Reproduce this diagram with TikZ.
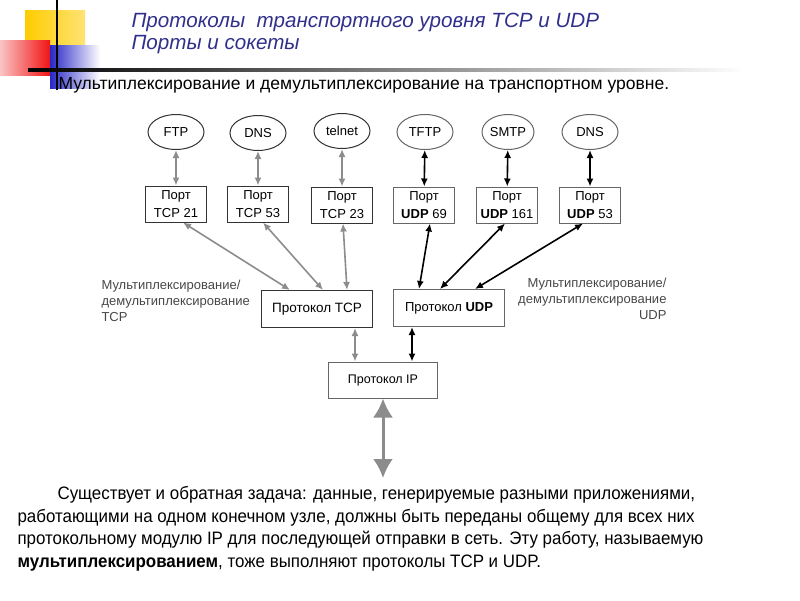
\documentclass[tikz,border=0pt]{standalone}
\usepackage{fontspec}
\setmainfont{Liberation Sans}
\newfontfamily\narrowfont[FakeStretch=0.94]{Liberation Sans}
\usetikzlibrary{arrows.meta}
\usetikzlibrary{shapes}
\definecolor[named]{TitleBlue}{RGB}{48,48,140}
\definecolor[named]{DecoYellow}{RGB}{255,204,0}
\definecolor[named]{DecoRed}{RGB}{240,20,20}
\definecolor[named]{DecoBlue}{RGB}{40,40,200}
\colorlet{arrgray}{black!45}
\colorlet{lblgray}{black!72}
\newcommand{\fsz}[2]{\fontsize{#1}{#2}\selectfont}
\tikzset{
  app/.style={draw=black!80,line width=1pt,ellipse,inner sep=0pt,
    minimum width=56pt,minimum height=35pt,font=\fsz{13}{15}},
  port/.style={draw=black!80,line width=1pt,align=center,inner sep=0pt,
    minimum width=61pt,minimum height=36pt,font=\fsz{13}{18}},
  proto/.style={draw=black!80,line width=1pt,inner sep=0pt,
    minimum width=111pt,minimum height=37pt,font=\fsz{13.5}{15}},
  garr/.style={arrgray,line width=1.6pt,
    {Latex[length=8pt,width=7pt]}-{Latex[length=8pt,width=7pt]}},
  barr/.style={black,line width=1.6pt,
    {Latex[length=8pt,width=7pt]}-{Latex[length=8pt,width=7pt]}}
}

\begin{document}
\begin{tikzpicture}[x=1pt,y=-1pt]
    \useasboundingbox (0,0) rectangle (800,600);
    % Decoration
    \shade[left color=DecoYellow,right color=DecoYellow!55]
      (25,10) rectangle (85,65);
    \shade[left color=DecoRed!25,right color=DecoRed]
      (0,40) rectangle (50,75);
    \shade[left color=DecoBlue,right color=white]
      (50,45) rectangle (100,88);
    \draw[line width=2pt] (57,0) -- (57,90);
    \shade[left color=black,middle color=black!70,right color=white]
      (28,68.5) rectangle (745,71.5);
    % Titles
    \node[anchor=west,TitleBlue,font=\itshape\fsz{20.6}{24}] (title) at (128,22)
      {Протоколы \ транспортного уровня TCP и UDP};
    \node[anchor=west,TitleBlue,font=\itshape\fsz{20.6}{24}] (subtitle) at (128,45)
      {Порты и сокеты};
    \node[anchor=west,font=\fsz{17.5}{20}] (head) at (55,85)
      {Мультиплексирование и демультиплексирование на транспортном уровне.};
    % Applications
    \node[app] (ftp)    at (176,132) {FTP};
    \node[app] (dns)    at (258,133) {DNS};
    \node[app] (telnet) at (342,131) {telnet};
    \node[app,draw=black!60] (tftp) at (425,132) {TFTP};
    \node[app,draw=black!60,minimum width=52pt] (smtp) at (508,132) {SMTP};
    \node[app,draw=black!60] (dnsu) at (590,132) {DNS};
    % Ports
    \node[port] (pftp)    at (176,204) {Порт\\TCP 21};
    \node[port] (pdns)    at (258,204) {Порт\\TCP 53};
    \node[port] (ptelnet) at (342,205) {Порт\\TCP 23};
    \node[port,draw=black!60] (ptftp) at (424,205) {Порт\\\textbf{UDP} 69};
    \node[port,draw=black!60] (psmtp) at (507,205) {Порт\\\textbf{UDP} 161};
    \node[port,draw=black!60] (pdnsu) at (590,205) {Порт\\\textbf{UDP} 53};
    % Protocols
    \node[proto] (tcp) at (317,309) {Протокол TCP};
    \node[proto,draw=black!60,font=\fsz{13}{15}] (udp) at (449,308)
      {Протокол \textbf{UDP}};
    \node[proto,draw=black!60,minimum width=109pt,minimum height=36pt,
      font=\fsz{12.5}{15}] (ip) at (383,380) {Протокол IP};
    \coordinate (net) at (383,478);
    % Labels
    \node[anchor=west,align=left,lblgray,font=\fsz{13}{16}] (ltcp) at (98,301)
      {Мультиплексирование/\\демультиплексирование\\TCP};
    \node[anchor=east,align=right,lblgray,font=\fsz{13}{16}] (ludp) at (670,299)
      {Мультиплексирование/\\демультиплексирование\\UDP};
    % Arrows
    \draw[garr] (ftp) -- (pftp);
    \draw[garr] (dns) -- (pdns);
    \draw[garr] (telnet) -- (ptelnet);
    \draw[barr] (tftp) -- (ptftp);
    \draw[barr] (smtp) -- (psmtp);
    \draw[barr] (dnsu) -- (pdnsu);
    \draw[garr] ([xshift=7pt]pftp.south) -- ([xshift=-27pt]tcp.north);
    \draw[garr] ([xshift=5pt]pdns.south) -- ([xshift=6pt]tcp.north);
    \draw[garr] ([xshift=1pt]ptelnet.south) -- ([xshift=30pt]tcp.north);
    \draw[barr] ([xshift=6pt]ptftp.south) -- ([xshift=-30pt]udp.north);
    \draw[barr] ([xshift=-2pt]psmtp.south) -- ([xshift=-9pt]udp.north);
    \draw[barr] ([xshift=-7pt]pdnsu.south) -- ([xshift=26pt]udp.north);
    \draw[garr] ([xshift=38pt]tcp.south) -- ([xshift=-28pt]ip.north);
    \draw[barr] ([xshift=-37pt]udp.south) -- ([xshift=29pt]ip.north);
    \draw[arrgray,line width=3pt,
      {Latex[length=19pt,width=20pt]}-{Latex[length=19pt,width=20pt]}]
      (ip) -- (net);
    % Text
    \node[anchor=north west,align=left,font=\narrowfont\fsz{18}{22.6}] (txt)
      at (14,483)
      {\hspace*{40pt}Существует и обратная задача: данные, генерируемые разными приложениями,\\
       работающими на одном конечном узле, должны быть переданы общему для всех них\\
       протокольному модулю IP для последующей отправки в сеть. Эту работу, называемую\\
       \textbf{мультиплексированием}, тоже выполняют протоколы TCP и UDP.};
\end{tikzpicture}
\end{document}
